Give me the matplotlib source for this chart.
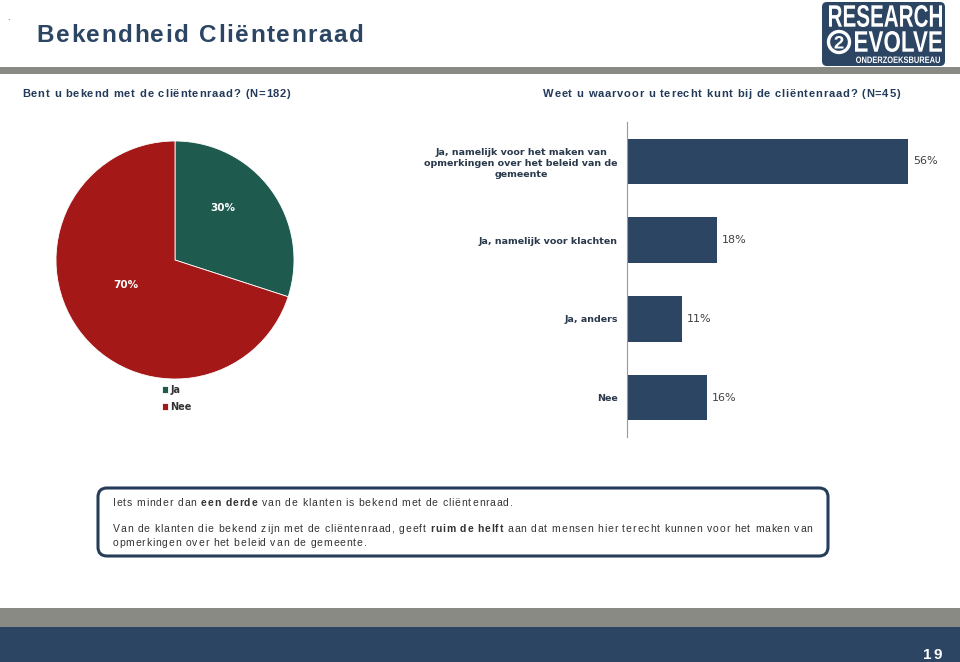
import matplotlib
matplotlib.use('Agg')
import matplotlib.pyplot as plt
from matplotlib.font_manager import FontProperties
from matplotlib.transforms import Affine2D
from matplotlib.patches import Rectangle, FancyBboxPatch, PathPatch, Circle
from matplotlib.textpath import TextPath

W, H = 960, 662

# ---------------- data ----------------
pie_labels = ['Ja', 'Nee']
pie_values = [30, 70]

bar_categories = ['Ja, namelijk voor het maken van\nopmerkingen over het beleid van de\ngemeente',
                  'Ja, namelijk voor klachten',
                  'Ja, anders',
                  'Nee']
bar_values = [56, 18, 11, 16]

title = 'Bekendheid Cliëntenraad'
subtitle_left = 'Bent u bekend met de cliëntenraad? (N=182)'
subtitle_right = 'Weet u waarvoor u terecht kunt bij de cliëntenraad? (N=45)'
summary_lines = [
    [('Iets minder dan ', 'normal'), ('een derde', 'bold'),
     (' van de klanten is bekend met de cliëntenraad.', 'normal')],
    [('Van de klanten die bekend zijn met de cliëntenraad, geeft ', 'normal'),
     ('ruim de helft', 'bold'),
     (' aan dat mensen hier terecht kunnen voor het maken van', 'normal')],
    [('opmerkingen over het beleid van de gemeente.', 'normal')],
]
page_number = '19'

# ---------------- colours ----------------
NAVY = '#2b4563'
GREEN = '#1f5a4f'
RED = '#a51818'
GREY_BAND = '#8a8a84'
TEXT_DARK = '#23395a'

fig = plt.figure(figsize=(9.6, 6.62), dpi=100)
fig.patch.set_facecolor('white')
PX = Affine2D().scale(1 / W, -1 / H).translate(0, 1) + fig.transFigure
renderer = fig.canvas.get_renderer()

_adv_cache = {}
REP = 20


def advance(c, family, weight, size):
    key = (c, family, weight, size)
    if key not in _adv_cache:
        fp = FontProperties(family=family, weight=weight, size=size)
        w1, _, _ = renderer.get_text_width_height_descent('|' + c * REP + '|', fp, ismath=False)
        w0, _, _ = renderer.get_text_width_height_descent('||', fp, ismath=False)
        _adv_cache[key] = (w1 - w0) / REP
    return _adv_cache[key]


def draw_runs(x, y, runs, size, color, family='Liberation Sans', track=0.0,
              target=None, zorder=5):
    chars = []
    for txt, w in runs:
        for c in txt:
            chars.append((c, w, advance(c, family, w, size)))
    n = len(chars)
    if target is not None:
        natural = sum(a for _, _, a in chars[:-1])
        last = chars[-1]
        fp = FontProperties(family=family, weight=last[1], size=size)
        lw_, _, _ = renderer.get_text_width_height_descent(last[0], fp, ismath=False)
        natural += lw_
        track = (target - natural) / max(n - 1, 1)
    xx = x
    for c, w, a in chars:
        if c != ' ':
            fig.text(xx, y, c, transform=PX, fontsize=size, family=family,
                     weight=w, color=color, va='baseline', ha='left', zorder=zorder)
        xx += a + track


def fit_text(s, x0, y0, x1, y1, color='white', family='Liberation Sans', weight='bold', zorder=6):
    tp = TextPath((0, 0), s, size=20, prop=FontProperties(family=family, weight=weight))
    bb = tp.get_extents()
    sx = (x1 - x0) / bb.width
    sy = (y1 - y0) / bb.height
    tr = Affine2D().translate(-bb.x0, -bb.y0).scale(sx, -sy).translate(x0, y1) + PX
    fig.add_artist(PathPatch(tp, transform=tr, facecolor=color, lw=0, zorder=zorder))


# ---------------- header ----------------
fig.text(7, 20, '.', transform=PX, fontsize=6, color='#333333', va='baseline')
draw_runs(36.5, 42.5, [(title, 'bold')], 17.5, NAVY, target=327)
fig.add_artist(Rectangle((0, 67), W, 6.5, transform=PX, facecolor=GREY_BAND, lw=0, zorder=1))

# logo
fig.add_artist(FancyBboxPatch((822, 2), 123, 64, boxstyle='round,pad=0,rounding_size=5',
                              transform=PX, facecolor=NAVY, lw=0, zorder=2))
fit_text('RESEARCH', 829, 5, 942, 27)
fit_text('EVOLVE', 855, 31, 942, 52)
fit_text('ONDERZOEKSBUREAU', 856, 56.5, 940, 63)
fig.add_artist(Circle((839, 42), 10.5, transform=PX, facecolor=NAVY, edgecolor='white',
                      lw=2.4, zorder=6))
fit_text('2', 834.5, 36, 843.5, 48.5)

# subtitles
draw_runs(22, 97, [(subtitle_left, 'bold')], 8.0, TEXT_DARK, target=268)
draw_runs(543, 97, [(subtitle_right, 'bold')], 8.0, TEXT_DARK, target=357)

# ---------------- pie ----------------
axp = fig.add_axes([56 / W, 1 - 379 / H, 238 / W, 238 / H])
wedges, texts, autotexts = axp.pie(
    pie_values, colors=[GREEN, RED], startangle=90, counterclock=False,
    autopct=lambda p: f'{p:.0f}%', pctdistance=0.55, radius=1,
    wedgeprops=dict(linewidth=0.6, edgecolor='white'),
    textprops=dict(color='white', fontsize=7.5, fontweight='bold', family='DejaVu Sans'))
for t, dx in zip(autotexts, [-0.04, 0.03]):
    px_, py_ = t.get_position()
    t.set_position((px_ + dx, py_ + 0.11))
axp.set_xlim(-1, 1)
axp.set_ylim(-1, 1)
axp.set_aspect('equal')
axp.axis('off')

leg = axp.legend(wedges, pie_labels, loc='upper left',
                 bbox_to_anchor=(162 / W, 1 - 385 / H), bbox_transform=fig.transFigure,
                 frameon=False, fontsize=7, handlelength=0.65, handleheight=0.65,
                 handletextpad=0.2, labelspacing=0.72, borderpad=0, borderaxespad=0)
for t in leg.get_texts():
    t.set_fontweight('bold')
    t.set_color('#333333')
    t.set_family('DejaVu Sans')

# ---------------- bars ----------------
axb = fig.add_axes([627 / W, 1 - 437 / H, 313 / W, 315 / H])
ypos = list(range(len(bar_values)))
bars = axb.barh(ypos, bar_values, height=0.575, color=NAVY)
axb.set_ylim(len(bar_values) - 0.5, -0.5)
axb.set_xlim(0, 313 / 5.02)
axb.set_yticks(ypos)
axb.set_yticklabels(bar_categories, fontsize=6.8, fontweight='bold', color='#2a3a4c',
                    family='DejaVu Sans', multialignment='center', linespacing=1.3)
axb.tick_params(axis='y', length=0, pad=6.5)
axb.set_xticks([])
for s in ['top', 'right', 'bottom']:
    axb.spines[s].set_visible(False)
axb.spines['left'].set_color('#999999')
axb.spines['left'].set_linewidth(0.8)
axb.bar_label(bars, labels=[f'{v}%' for v in bar_values], padding=3.5,
              fontsize=8, color='#404040', family='DejaVu Sans')
axb.patch.set_alpha(0)

# ---------------- summary box ----------------
fig.add_artist(FancyBboxPatch((98, 488), 730, 68, boxstyle='round,pad=0,rounding_size=9',
                              transform=PX, facecolor='white', edgecolor='#263d59',
                              lw=2.2, zorder=3))
draw_runs(112.5, 506.5, summary_lines[0], 7.5, '#333333', target=400)
draw_runs(112.5, 532.5, summary_lines[1], 7.5, '#333333', target=700)
draw_runs(112.5, 546.0, summary_lines[2], 7.5, '#333333', target=254)

# ---------------- footer ----------------
fig.add_artist(Rectangle((0, 607.5), W, 19.5, transform=PX, facecolor=GREY_BAND, lw=0, zorder=1))
fig.add_artist(Rectangle((0, 627), W, 35, transform=PX, facecolor=NAVY, lw=0, zorder=1))
draw_runs(923, 659, [(page_number, 'bold')], 11.0, 'white', target=19)

fig.savefig('out.png', dpi=100, facecolor='white')
